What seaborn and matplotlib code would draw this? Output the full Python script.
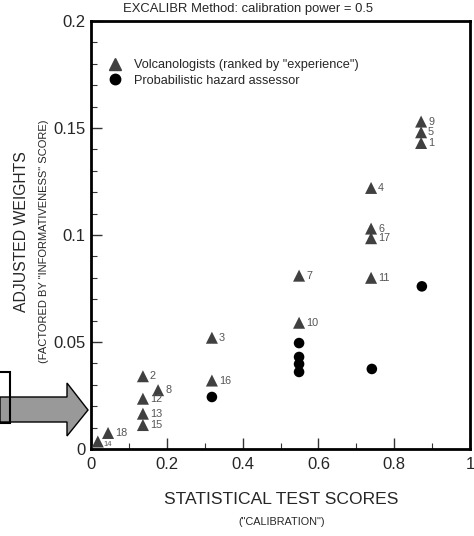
import numpy as np
import pandas as pd
import seaborn as sns
import matplotlib
matplotlib.use("Agg")
import matplotlib.pyplot as plt
from matplotlib.patches import Polygon, Rectangle
from matplotlib.lines import Line2D

# ---- data ----
volc_ids = ["9", "5", "1", "4", "6", "17", "11", "7", "10", "3", "16", "2", "8", "12", "13", "15", "18", "14"]
volc_x = [0.871, 0.871, 0.871, 0.739, 0.739, 0.739, 0.739, 0.549, 0.549, 0.319, 0.319, 0.137, 0.177, 0.137, 0.137, 0.137, 0.045, 0.018]
volc_y = [0.153, 0.148, 0.143, 0.122, 0.103, 0.0985, 0.080, 0.081, 0.059, 0.052, 0.032, 0.034, 0.0275, 0.0235, 0.0165, 0.0112, 0.0075, 0.0035]

haz_x = [0.873, 0.549, 0.549, 0.549, 0.549, 0.741, 0.319]
haz_y = [0.076, 0.0495, 0.043, 0.0397, 0.036, 0.0374, 0.0243]

group_names = ['Volcanologists (ranked by "experience")', 'Probabilistic hazard assessor']
x_ticks = [0, 0.2, 0.4, 0.6, 0.8, 1.0]
x_tick_labels = ["0", "0.2", "0.4", "0.6", "0.8", "1"]
y_ticks = [0, 0.05, 0.1, 0.15, 0.2]
y_tick_labels = ["0", "0.05", "0.1", "0.15", "0.2"]

title = "EXCALIBR Method: calibration power = 0.5"
xlabel_main = "STATISTICAL TEST SCORES"
xlabel_sub = '("CALIBRATION")'
ylabel_main = "ADJUSTED WEIGHTS"
ylabel_sub = '(FACTORED BY "INFORMATIVENESS" SCORE)'

df = pd.DataFrame({
    "x": volc_x + haz_x,
    "y": volc_y + haz_y,
    "group": [group_names[0]] * len(volc_x) + [group_names[1]] * len(haz_x),
})

# ---- style ----
sns.set_style("ticks")
plt.rcParams["font.family"] = ["Liberation Sans", "DejaVu Sans"]

W, H = 474, 536
fig = plt.figure(figsize=(W / 100, H / 100), dpi=100)
ax = fig.add_axes([91 / W, 1 - 449 / H, (470 - 91) / W, (449 - 21) / H])

colors = {group_names[0]: "#404040", group_names[1]: "#000000"}
markers = {group_names[0]: "^", group_names[1]: "o"}
sizes_pt = {group_names[0]: 75, group_names[1]: 58}
df["sz"] = df["group"].map(sizes_pt)
sns.scatterplot(data=df, x="x", y="y", hue="group", style="group", size="sz",
                sizes=(58, 75), palette=colors, markers=markers, edgecolor="none",
                legend=False, ax=ax, zorder=3)

for lab, xx, yy in zip(volc_ids, volc_x, volc_y):
    fs = 5.5 if lab == "14" else 7.8
    off = (4, -2) if lab == "14" else (5, 0)
    ax.annotate(lab, (xx, yy), xytext=off, textcoords="offset points",
                fontsize=fs, color="#555555", va="center", ha="left")

ax.set_xlim(0, 1)
ax.set_ylim(0, 0.2)
ax.set_xticks(x_ticks)
ax.set_xticklabels(x_tick_labels)
ax.set_yticks(y_ticks)
ax.set_yticklabels(y_tick_labels)
ax.set_xticks(np.arange(0.1, 1.0, 0.2), minor=True)
ax.set_yticks([v / 100 for v in range(1, 20) if v % 5 != 0], minor=True)
ax.tick_params(axis="both", which="major", direction="in", length=8, width=1,
               labelsize=12, color="#333333", pad=4)
ax.tick_params(axis="x", which="major", pad=6)
ax.tick_params(axis="both", which="minor", direction="in", length=4, width=0.8,
               color="#333333")
for sp in ax.spines.values():
    sp.set_linewidth(2)
    sp.set_color("black")
    sp.set_visible(True)
ax.set_xlabel("")
ax.set_ylabel("")

handles = [Line2D([], [], marker="^", color="#404040", ls="none", markersize=9),
           Line2D([], [], marker="o", color="#000000", ls="none", markersize=7.5)]
ax.legend(handles, group_names, loc="upper left", bbox_to_anchor=(0.03, 0.922),
          frameon=False, fontsize=9.2, handletextpad=0.9, labelspacing=0.25,
          handlelength=1.2, borderaxespad=0)

# ---- text ----
fig.text(248 / W, 1 - 9 / H, title, ha="center", va="center", fontsize=9.4)
fig.text(281 / W, 1 - 499 / H, xlabel_main, ha="center", va="center", fontsize=12.6)
fig.text(282 / W, 1 - 522 / H, xlabel_sub, ha="center", va="center", fontsize=7.8)
fig.text(22 / W, 1 - 232 / H, ylabel_main, ha="center", va="center", rotation=90, fontsize=11.3)
fig.text(44 / W, 1 - 241 / H, ylabel_sub, ha="center", va="center", rotation=90, fontsize=8)

# ---- arrow decoration ----
pts = [(0, 397), (67, 397), (67, 383), (88, 410), (67, 436), (67, 422), (0, 422)]
arrow = Polygon([(px / W, 1 - py / H) for px, py in pts], closed=True,
                facecolor="#999999", edgecolor="black", linewidth=1,
                transform=fig.transFigure, zorder=5)
fig.patches.append(arrow)
rect = Rectangle((-5 / W, 1 - 423 / H), 15 / W, 51 / H, fill=False,
                 edgecolor="black", linewidth=1.5, transform=fig.transFigure, zorder=6)
fig.patches.append(rect)

fig.savefig("out.png", dpi=100)
